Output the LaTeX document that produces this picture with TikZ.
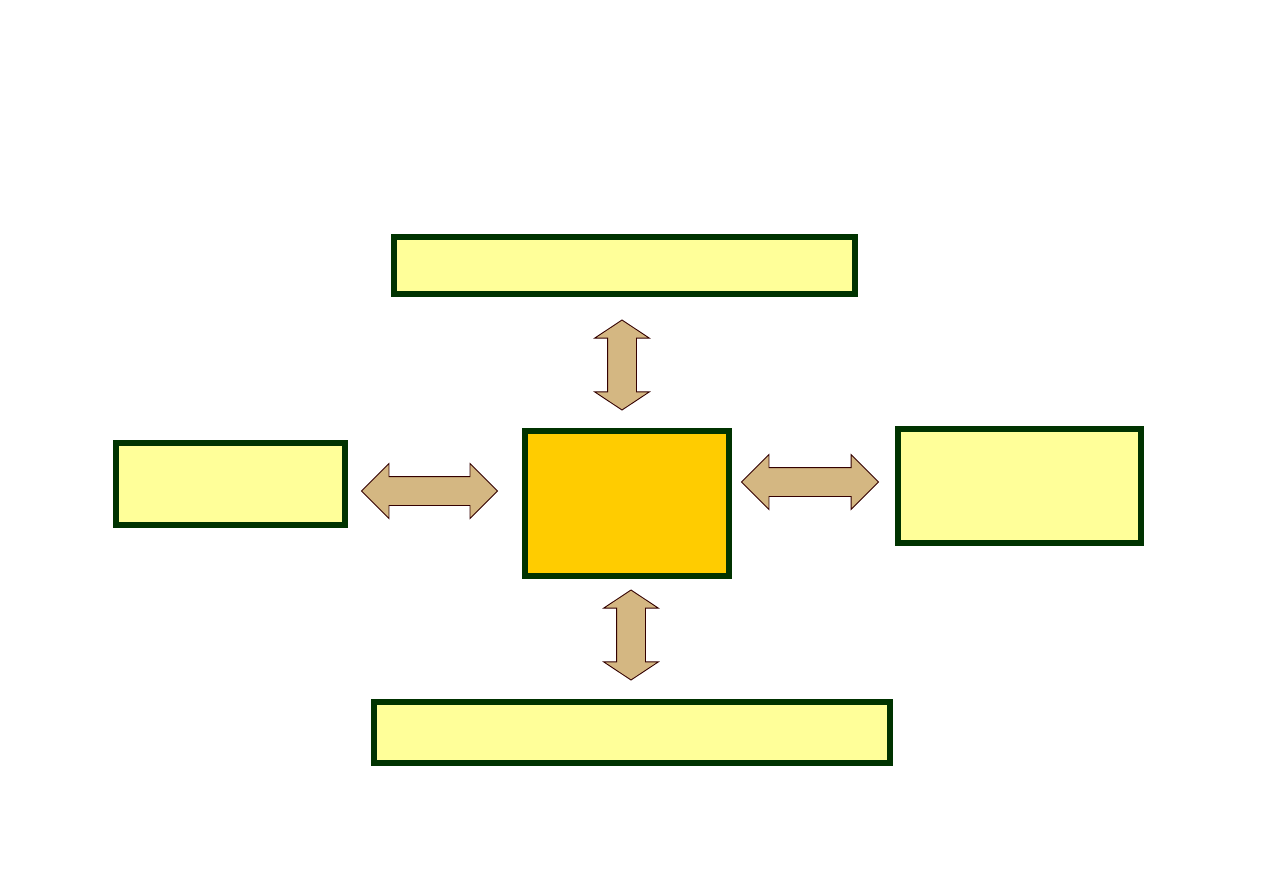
\documentclass[tikz,border=0pt]{standalone}
\usepackage{tikz}
\usetikzlibrary{shapes.arrows,positioning}
\definecolor{framegreen}{RGB}{0,51,0}
\definecolor{paleyellow}{RGB}{255,255,153}
\definecolor{hubgold}{RGB}{255,204,0}
\definecolor{arrowtan}{RGB}{212,183,130}
\definecolor{arrowline}{RGB}{51,0,0}

\begin{document}
\begin{tikzpicture}[x=0.02cm, y=-0.02cm,
    box/.style={draw=framegreen, line width=0.12cm, fill=paleyellow, rectangle, inner sep=0pt},
    linkarrow/.style={draw=arrowline, line width=0.5pt, fill=arrowtan, double arrow,
      inner sep=0pt, inner ysep=0.28cm, double arrow head extend=0.26cm, double arrow tip angle=#1},
    linkarrow/.default=90]
        \useasboundingbox (0,0) rectangle (1263,893);

        % boxes
        \node[box, minimum width=9.22cm, minimum height=1.14cm] (upper) at (624.5,265.5) {};
        \node[box, minimum width=4.58cm, minimum height=1.64cm] (west) at (230.5,484) {};
        \node[box, fill=hubgold, minimum width=4.08cm, minimum height=2.9cm] (hub) at (627,503.5) {};
        \node[box, minimum width=4.86cm, minimum height=2.28cm] (east) at (1019.5,486) {};
        \node[box, minimum width=10.32cm, minimum height=1.22cm] (lower) at (632,732.5) {};

        % arrows
        \node[linkarrow=113, rotate=90, minimum height=1.8cm] (uplink) at (622,365) {};
        \node[linkarrow=113, rotate=90, minimum height=1.8cm] (downlink) at (631,635) {};
        \node[linkarrow, minimum height=2.72cm] (westlink) at (429.5,491) {};
        \node[linkarrow, minimum height=2.74cm] (eastlink) at (810,482) {};
      \end{tikzpicture}
\end{document}
